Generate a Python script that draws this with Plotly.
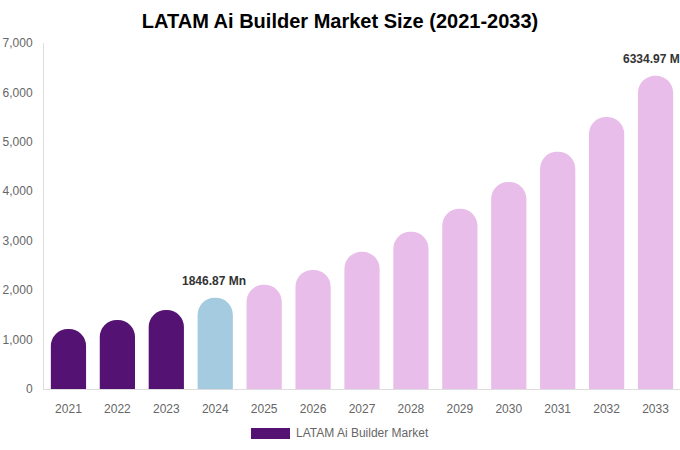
import plotly.graph_objects as go

years = ["2021", "2022", "2023", "2024", "2025", "2026", "2027", "2028", "2029", "2030", "2031", "2032", "2033"]
values = [1214, 1396, 1598, 1846.87, 2110, 2410, 2775, 3180, 3645, 4188, 4800, 5503, 6334.97]
bar_colors = ["#541272"] * 3 + ["#a4cbdf"] + ["#e8bde9"] * 9
label_years = ["2024", "2033"]
label_texts = ["1846.87 Mn", "6334.97 Mn"]
y_ticks = [0, 1000, 2000, 3000, 4000, 5000, 6000, 7000]
series_name = "LATAM Ai Builder Market"

fig = go.Figure()
fig.add_trace(go.Bar(
    x=years, y=values, marker=dict(color=bar_colors, line=dict(width=0)),
    name=series_name, showlegend=False, hoverinfo="x+y",
))

for yr, txt in zip(label_years, label_texts):
    i = years.index(yr)
    fig.add_annotation(x=i, y=values[i], text="<b>" + txt + "</b>",
                       showarrow=False, yanchor="bottom", yshift=8, xshift=-1,
                       font=dict(family="Liberation Sans, Arial", size=12, color="#333333"))

# legend swatch
fig.add_shape(type="rect", xref="paper", yref="paper", x0=0.3255, x1=0.3868, y0=-0.1127, y1=-0.1445,
              fillcolor="#541272", line=dict(width=0))
fig.add_annotation(xref="paper", yref="paper", x=0.3935, y=-0.127, text=series_name,
                   showarrow=False, xanchor="left", yanchor="middle",
                   font=dict(family="Liberation Sans, Arial", size=12, color="#666666"))

fig.update_layout(
    width=680, height=450,
    margin=dict(l=44, r=0, t=43, b=61, autoexpand=False),
    paper_bgcolor="white", plot_bgcolor="white",
    bargap=0.28,
    barcornerradius="50%",
    title=dict(text="<b>LATAM Ai Builder Market Size (2021-2033)</b>", x=0.5, xanchor="center",
               y=1 - 21 / 450, yanchor="middle",
               font=dict(family="Liberation Sans, Arial", size=20, color="#000000")),
    font=dict(family="Liberation Sans, Arial", size=12, color="#666666"),
    showlegend=False,
)
fig.update_xaxes(type="category", range=[-0.5, len(years) - 0.5], automargin=False, showline=True,
                 linecolor="#dddddd", linewidth=1, ticks="", showgrid=False,
                 tickfont=dict(size=12, color="#666666"), ticklabelstandoff=9)
fig.update_yaxes(range=[0, 7000], automargin=False, tickvals=y_ticks, tickformat=",", showgrid=False,
                 showline=True, linecolor="#dddddd", linewidth=1, zeroline=False,
                 tickfont=dict(size=12, color="#666666"), ticks="", ticklabelstandoff=8)

fig.write_html("out.html", config={"displayModeBar": False},
               post_script="document.body.style.margin='0';document.body.style.padding='0';document.body.style.overflow='hidden';")
